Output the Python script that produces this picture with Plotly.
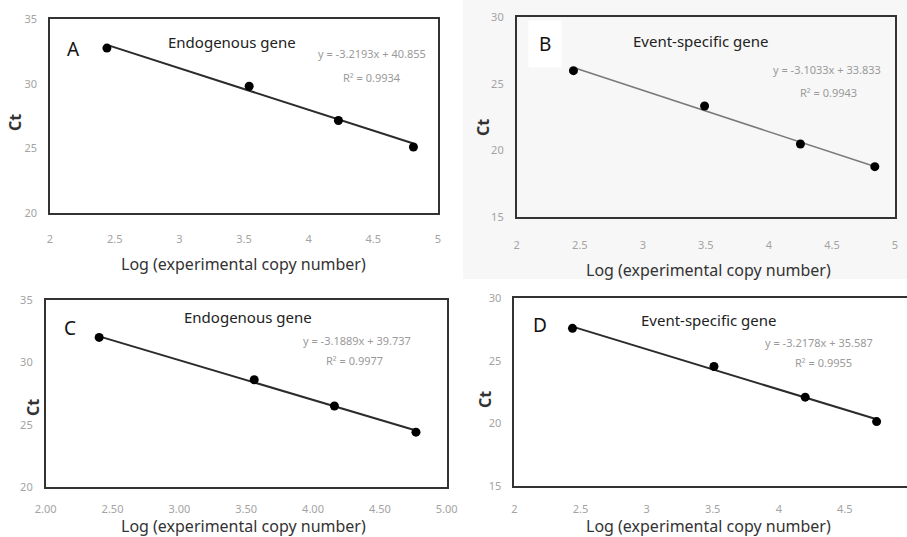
import plotly.graph_objects as go

# ---------------- data ----------------
panel_letters = ["A", "B", "C", "D"]
panel_titles = ["Endogenous gene", "Event-specific gene", "Endogenous gene", "Event-specific gene"]

log_copy_A = [2.44, 3.54, 4.23, 4.81]
ct_A = [32.75, 29.8, 27.15, 25.1]
log_copy_B = [2.45, 3.49, 4.25, 4.84]
ct_B = [26.0, 23.35, 20.5, 18.8]
log_copy_C = [2.40, 3.56, 4.16, 4.77]
ct_C = [32.0, 28.6, 26.5, 24.4]
log_copy_D = [2.44, 3.51, 4.20, 4.74]
ct_D = [27.6, 24.55, 22.1, 20.15]

slopes = [-3.2193, -3.1033, -3.1889, -3.2178]
intercepts = [40.855, 33.833, 39.737, 35.587]
r_squared = [0.9934, 0.9943, 0.9977, 0.9955]

x_ticks = [2, 2.5, 3, 3.5, 4, 4.5, 5]
y_ranges = [[20, 35], [15, 30], [20, 35], [15, 30]]

xs = [log_copy_A, log_copy_B, log_copy_C, log_copy_D]
ys = [ct_A, ct_B, ct_C, ct_D]

W, H = 907, 537

def px(v):
    return v / W

def py(v):
    return 1 - v / H

# plot boxes in pixels: left, right(at x=5), top, bottom
boxes = [
    (50.0, 438.0, 19.0, 213.0),
    (516.7, 895.0, 17.3, 217.3),
    (45.7, 446.7, 300.0, 487.0),
    (514.3, 911.0, 298.3, 486.0),
]
x_standoff = [15, 17, 11, 12]

fig = go.Figure()

line_colors = ["#2b2b2b", "#7a7a7a", "#2b2b2b", "#2b2b2b"]
line_widths = [2, 1.5, 2, 2]

for i in range(4):
    xa = "x" if i == 0 else f"x{i+1}"
    ya = "y" if i == 0 else f"y{i+1}"
    x0, x1 = xs[i][0], xs[i][-1]
    fig.add_trace(go.Scatter(
        x=[x0, x1], y=[slopes[i] * x0 + intercepts[i], slopes[i] * x1 + intercepts[i]],
        mode="lines", line=dict(color=line_colors[i], width=line_widths[i]),
        xaxis=xa, yaxis=ya, showlegend=False, hoverinfo="skip"))
    fig.add_trace(go.Scatter(
        x=xs[i], y=ys[i], mode="markers",
        marker=dict(color="black", size=9),
        xaxis=xa, yaxis=ya, showlegend=False))

tick_font = dict(family="Noto Sans", size=11, color="#a3a3a3")
layout = dict(
    width=W, height=H,
    margin=dict(l=0, r=0, t=0, b=0, autoexpand=False),
    paper_bgcolor="white",
    plot_bgcolor="rgba(0,0,0,0)",
    showlegend=False,
)

for i in range(4):
    l, r, t, b = boxes[i]
    right = min(r, W - 0.5)
    xmax = 2 + (right - l) / ((r - l) / 3.0)
    xkey = "xaxis" if i == 0 else f"xaxis{i+1}"
    ykey = "yaxis" if i == 0 else f"yaxis{i+1}"
    yref = "y" if i == 0 else f"y{i+1}"
    xref = "x" if i == 0 else f"x{i+1}"
    layout[xkey] = dict(
        domain=[px(l), px(right)], range=[2, xmax], anchor=yref,
        tickvals=x_ticks, automargin=False,
        ticktext=[f"{v:.2f}" for v in x_ticks] if i == 2 else [f"{v:g}" for v in x_ticks],
        showline=True, mirror=True, linecolor="#333333", linewidth=1.6,
        showgrid=False, zeroline=False, ticks="", ticklabelstandoff=x_standoff[i],
        tickfont=tick_font,
    )
    layout[ykey] = dict(
        domain=[py(b), py(t)], range=y_ranges[i], anchor=xref, dtick=5,
        automargin=False,
        showline=True, mirror=True, linecolor="#333333", linewidth=1.6,
        showgrid=False, zeroline=False, ticks="", ticklabelstandoff=9,
        tickfont=tick_font,
    )

fig.update_layout(**layout)

# light grey background of panel B picture
fig.add_shape(type="rect", xref="paper", yref="paper",
              x0=px(463), x1=1, y0=py(279), y1=1,
              fillcolor="#f7f7f7", line_width=0, layer="below")

title_font = dict(family="Noto Sans", size=16, color="#333333")
annos = []
xtitle_pos = [(244, 264), (708, 270), (244, 526), (708, 526)]
ct_pos = [(15, 123), (483, 127), (33, 408), (485, 400)]
letter_pos = [(73, 49), (545, 44), (70, 328), (540, 325)]
head_pos = [(232, 42), (700, 41), (248, 317), (708, 320)]
eq_pos = [(372, 53), (827, 69), (357, 340), (819, 342)]
r2_pos = [(372, 77), (828, 92), (354, 360), (823, 362)]

for i in range(4):
    annos.append(dict(x=px(xtitle_pos[i][0]), y=py(xtitle_pos[i][1]), xref="paper", yref="paper",
                      text="Log (experimental copy number)", showarrow=False,
                      font=title_font, xanchor="center", yanchor="middle"))
    annos.append(dict(x=px(ct_pos[i][0]), y=py(ct_pos[i][1]), xref="paper", yref="paper",
                      text="<b>Ct</b>", showarrow=False, textangle=-90,
                      font=dict(family="Noto Sans", size=16, color="#333333"),
                      xanchor="center", yanchor="middle"))
    annos.append(dict(x=px(letter_pos[i][0]), y=py(letter_pos[i][1]), xref="paper", yref="paper",
                      text=panel_letters[i], showarrow=False,
                      font=dict(family="Noto Sans", size=19, color="#111111"),
                      bgcolor="white" if i == 1 else None,
                      borderpad=10 if i == 1 else 1,
                      xanchor="center", yanchor="middle"))
    annos.append(dict(x=px(head_pos[i][0]), y=py(head_pos[i][1]), xref="paper", yref="paper",
                      text=panel_titles[i], showarrow=False,
                      font=dict(family="Noto Sans", size=15, color="#222222"),
                      xanchor="center", yanchor="middle"))
    annos.append(dict(x=px(eq_pos[i][0]), y=py(eq_pos[i][1]), xref="paper", yref="paper",
                      text=f"y = {slopes[i]:.4f}x + {intercepts[i]:.3f}", showarrow=False,
                      font=dict(family="Noto Sans", size=11, color="#9a9a9a"),
                      xanchor="center", yanchor="middle"))
    annos.append(dict(x=px(r2_pos[i][0]), y=py(r2_pos[i][1]), xref="paper", yref="paper",
                      text=f"R² = {r_squared[i]:.4f}", showarrow=False,
                      font=dict(family="Noto Sans", size=11, color="#9a9a9a"),
                      xanchor="center", yanchor="middle"))

fig.update_layout(annotations=annos)

fig.write_html(
    "out.html",
    config={"displayModeBar": False},
    post_script="document.body.style.margin='0';document.body.style.overflow='hidden';",
)
